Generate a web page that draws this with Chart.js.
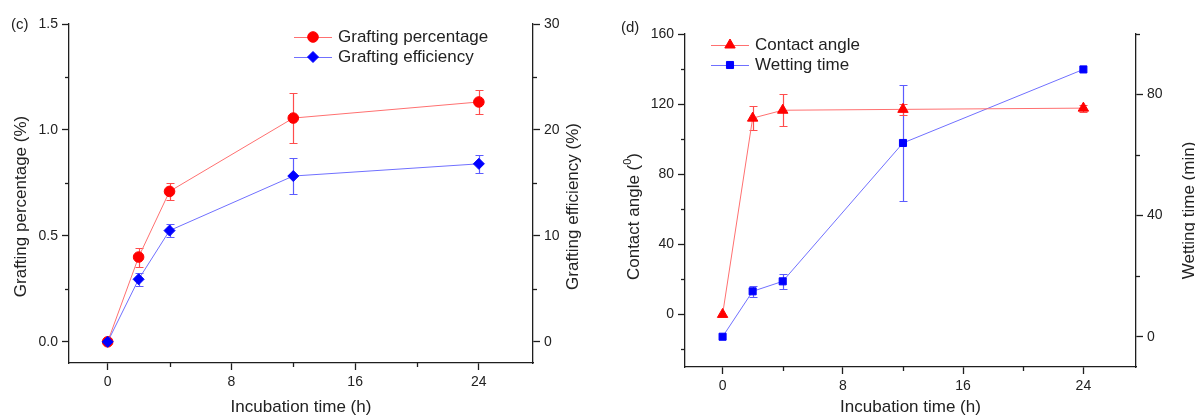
<!DOCTYPE html>
<html>
<head>
<meta charset="utf-8">
<script src="https://cdn.jsdelivr.net/npm/chart.js@4.4.1/dist/chart.umd.min.js"></script>
<style>
  html, body { margin: 0; padding: 0; background: #fff; }
  #wrap { position: relative; width: 1195px; height: 418px; overflow: hidden; background: #fff; }
  .panel { position: absolute; top: 0; height: 418px; }
  #pc { left: 0; width: 597px; }
  #pd { left: 597px; width: 598px; }
  .tag { position: absolute; font: 15px "Liberation Sans", Arial, sans-serif; color: #222; line-height: 1; }
</style>
</head>
<body>
<div id="wrap">
  <div class="panel" id="pc"><canvas id="chartC"></canvas></div>
  <div class="panel" id="pd"><canvas id="chartD"></canvas></div>
  <div class="tag" style="left:11px; top:16px;">(c)</div>
  <div class="tag" style="left:621px; top:19px;">(d)</div>
</div>
<script>
// panel (c)
const hoursC = [0, 2, 4, 12, 24];
const graftPct = [0, 0.40, 0.71, 1.056, 1.132];
const graftPctErr = [0, 0.045, 0.04, 0.117, 0.057];
const graftEff = [0, 5.9, 10.5, 15.65, 16.8];
const graftEffErr = [0, 0.64, 0.58, 1.7, 0.87];

// panel (d)
const hoursD = [0, 2, 4, 12, 24];
const contactAngle = [0, 112, 116.5, 117, 117.7];
const contactAngleErr = [0, 7, 9, 3, 2];
const wettingTime = [0, 15, 18.3, 64, 88.3];
const wettingTimeErr = [0, 1.8, 2.5, 19, 0];

const ink = '#1e1e1e';
const family = '"Liberation Sans", Arial, "DejaVu Sans", sans-serif';
const redLine = '#ff7070';
const blueLine = '#7070ff';
const redErr = '#ff4d4d';
const blueErr = '#5c5cff';

Chart.defaults.font.family = family;
Chart.defaults.color = '#222';

function isStep(v, step) {
  const r = v / step;
  return Math.abs(r - Math.round(r)) < 1e-6;
}

function toPoints(xs, ys) {
  return xs.map((x, i) => ({ x: x, y: ys[i] }));
}

// origin-like extras: error bars, short minor ticks, rotated side titles, line+symbol legend
const originStyle = {
  id: 'originStyle',
  afterDatasetsDraw(chart, args, opts) {
    const ctx = chart.ctx;
    const xs = chart.scales.x;
    (opts.errors || []).forEach(eb => {
      const ds = chart.data.datasets[eb.dataset];
      const ys = chart.scales[ds.yAxisID];
      ctx.save();
      ctx.globalCompositeOperation = 'destination-over';
      ctx.strokeStyle = eb.color;
      ctx.lineWidth = 1.2;
      ds.data.forEach((p, i) => {
        const e = eb.values[i];
        if (!e) return;
        const px = Math.round(xs.getPixelForValue(p.x)) + 0.5;
        const top = Math.round(ys.getPixelForValue(p.y + e)) + 0.5;
        const bot = Math.round(ys.getPixelForValue(p.y - e)) + 0.5;
        ctx.beginPath();
        ctx.moveTo(px, top); ctx.lineTo(px, bot);
        ctx.moveTo(px - 4, top); ctx.lineTo(px + 4, top);
        ctx.moveTo(px - 4, bot); ctx.lineTo(px + 4, bot);
        ctx.stroke();
      });
      ctx.restore();
    });
  },
  afterDraw(chart, args, opts) {
    const ctx = chart.ctx;
    const area = chart.chartArea;
    ctx.save();
    // minor ticks
    ctx.strokeStyle = ink;
    ctx.lineWidth = 1.3;
    Object.keys(opts.major || {}).forEach(id => {
      const s = chart.scales[id];
      s.ticks.forEach(t => {
        if (isStep(t.value, opts.major[id])) return;
        const p = Math.round(s.getPixelForValue(t.value)) + 0.5;
        ctx.beginPath();
        if (s.position === 'left') { ctx.moveTo(area.left, p); ctx.lineTo(area.left - 4, p); }
        else if (s.position === 'right') { ctx.moveTo(area.right, p); ctx.lineTo(area.right + 4, p); }
        else { ctx.moveTo(p, area.bottom); ctx.lineTo(p, area.bottom + 4); }
        ctx.stroke();
      });
    });
    // side titles, reading bottom to top
    (opts.titles || []).forEach(tt => {
      const cy = (area.top + area.bottom) / 2 + tt.dy;
      ctx.save();
      ctx.translate(tt.x, cy);
      ctx.rotate(-Math.PI / 2);
      ctx.fillStyle = '#222';
      ctx.textBaseline = 'middle';
      ctx.textAlign = 'left';
      const big = '17px ' + family;
      const small = '11px ' + family;
      let total = 0;
      tt.parts.forEach(pt => { ctx.font = pt.sup ? small : big; total += ctx.measureText(pt.t).width; });
      let x = -total / 2;
      tt.parts.forEach(pt => {
        ctx.font = pt.sup ? small : big;
        ctx.fillText(pt.t, x, pt.sup ? -6 : 0);
        x += ctx.measureText(pt.t).width;
      });
      ctx.restore();
    });
    // legend
    const lg = opts.legend;
    if (lg) {
      chart.data.datasets.forEach((ds, i) => {
        const y = lg.y + i * lg.gap;
        ctx.strokeStyle = ds.borderColor;
        ctx.lineWidth = 1;
        ctx.beginPath();
        ctx.moveTo(lg.x, y + 0.5);
        ctx.lineTo(lg.x + lg.len, y + 0.5);
        ctx.stroke();
        ctx.fillStyle = ds.pointBackgroundColor;
        ctx.strokeStyle = ds.pointBorderColor;
        Chart.helpers.drawPoint(ctx, { pointStyle: ds.pointStyle, radius: ds.pointRadius, rotation: 0, borderWidth: 1 }, lg.x + lg.len / 2, y);
        ctx.fillStyle = '#222';
        ctx.font = '17px ' + family;
        ctx.textBaseline = 'middle';
        ctx.textAlign = 'left';
        ctx.fillText(ds.label, lg.x + lg.len + 6, y);
      });
    }
    ctx.restore();
  }
};

function axis(pos, min, max, step, major, fmt, size) {
  const horizontal = pos === 'bottom';
  return {
    type: 'linear',
    position: pos,
    min: min,
    max: max,
    border: { display: true, color: ink, width: 1.3 },
    grid: {
      drawOnChartArea: false,
      drawTicks: true,
      tickLength: 7,
      tickWidth: 1.3,
      tickColor: c => (c.tick && isStep(c.tick.value, major)) ? ink : 'rgba(0,0,0,0)'
    },
    ticks: {
      stepSize: step,
      includeBounds: false,
      autoSkip: false,
      maxRotation: 0,
      padding: 4,
      color: '#222',
      font: { size: 14 },
      callback: v => isStep(v, major) ? fmt(v) : ''
    },
    afterFit: s => { if (horizontal) s.height = size; else s.width = size; }
  };
}

function xTitle(ax) {
  ax.title = { display: true, text: 'Incubation time (h)', font: { size: 17 }, color: '#222', padding: { top: 0, bottom: 0 } };
  return ax;
}

new Chart(document.getElementById('chartC'), {
  type: 'line',
  data: {
    datasets: [
      {
        label: 'Grafting percentage',
        data: toPoints(hoursC, graftPct),
        yAxisID: 'y',
        order: 1,
        borderColor: redLine,
        borderWidth: 1,
        tension: 0,
        pointStyle: 'circle',
        pointRadius: 5.3,
        pointBackgroundColor: '#ff0000',
        pointBorderColor: '#ff0000'
      },
      {
        label: 'Grafting efficiency',
        data: toPoints(hoursC, graftEff),
        yAxisID: 'y1',
        order: 0,
        borderColor: blueLine,
        borderWidth: 1,
        tension: 0,
        pointStyle: 'rectRot',
        pointRadius: 5.5,
        pointBackgroundColor: '#0000ff',
        pointBorderColor: '#0000ff'
      }
    ]
  },
  options: {
    responsive: true,
    maintainAspectRatio: false,
    animation: false,
    events: [],
    layout: { padding: { top: 24, left: 0, right: 0, bottom: 0 } },
    scales: {
      x: xTitle(axis('bottom', -2.5, 27.5, 4, 8, v => String(v), 55)),
      y: axis('left', -0.1, 1.5, 0.25, 0.5, v => v.toFixed(1), 69),
      y1: axis('right', -2, 30, 5, 10, v => String(v), 64)
    },
    plugins: {
      legend: { display: false },
      tooltip: { enabled: false },
      originStyle: {
        errors: [
          { dataset: 0, values: graftPctErr, color: redErr },
          { dataset: 1, values: graftEffErr, color: blueErr }
        ],
        major: { x: 8, y: 0.5, y1: 10 },
        titles: [
          { x: 21, dy: 13, parts: [{ t: 'Grafting percentage (%)' }] },
          { x: 573, dy: 13, parts: [{ t: 'Grafting efficiency (%)' }] }
        ],
        legend: { x: 294, y: 37, gap: 20, len: 38 }
      }
    }
  },
  plugins: [originStyle]
});

new Chart(document.getElementById('chartD'), {
  type: 'line',
  data: {
    datasets: [
      {
        label: 'Contact angle',
        data: toPoints(hoursD, contactAngle),
        yAxisID: 'y',
        borderColor: redLine,
        borderWidth: 1,
        tension: 0,
        pointStyle: 'triangle',
        pointRadius: 6,
        pointBackgroundColor: '#ff0000',
        pointBorderColor: '#ff0000'
      },
      {
        label: 'Wetting time',
        data: toPoints(hoursD, wettingTime),
        yAxisID: 'y1',
        borderColor: blueLine,
        borderWidth: 1,
        tension: 0,
        pointStyle: 'rect',
        pointRadius: 5,
        pointBackgroundColor: '#0000ff',
        pointBorderColor: '#0000ff'
      }
    ]
  },
  options: {
    responsive: true,
    maintainAspectRatio: false,
    animation: false,
    events: [],
    layout: { padding: { top: 34, left: 0, right: 0, bottom: 0 } },
    scales: {
      x: xTitle(axis('bottom', -2.5, 27.5, 4, 8, v => String(v), 51)),
      y: axis('left', -30, 160, 20, 40, v => String(v), 88),
      y1: axis('right', -10, 100, 20, 40, v => String(v), 59)
    },
    plugins: {
      legend: { display: false },
      tooltip: { enabled: false },
      originStyle: {
        errors: [
          { dataset: 0, values: contactAngleErr, color: redErr },
          { dataset: 1, values: wettingTimeErr, color: blueErr }
        ],
        major: { x: 8, y: 40, y1: 40 },
        titles: [
          { x: 37, dy: 16, parts: [{ t: 'Contact angle (' }, { t: '0', sup: true }, { t: ')' }] },
          { x: 592, dy: 10, parts: [{ t: 'Wetting time (min)' }] }
        ],
        legend: { x: 114, y: 45, gap: 20, len: 38 }
      }
    }
  },
  plugins: [originStyle]
});
</script>
</body>
</html>
